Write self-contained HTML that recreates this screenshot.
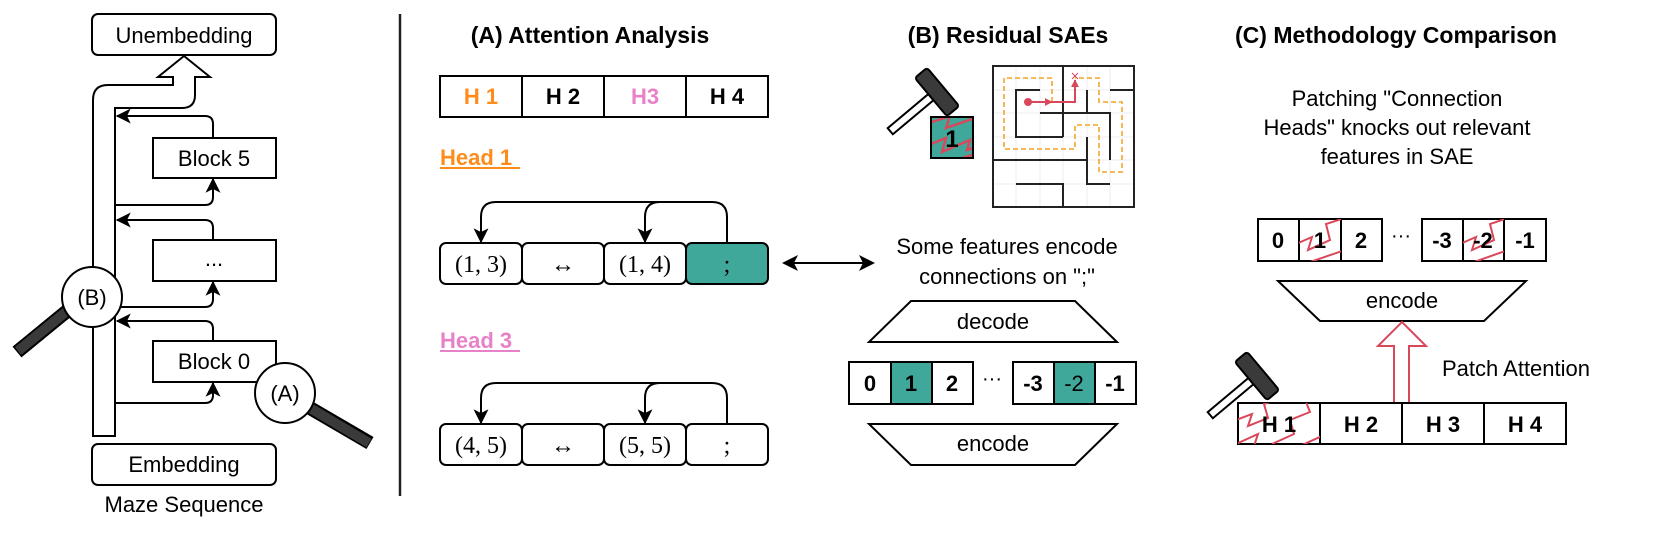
<!DOCTYPE html>
<html><head><meta charset="utf-8"><style>
html,body{margin:0;padding:0;background:#fff;}
svg{display:block;}
text{font-family:"Liberation Sans",Arial,sans-serif;}
.s{font-family:"Liberation Serif","DejaVu Serif",serif;}
</style></head><body>
<svg width="1661" height="536" viewBox="0 0 1661 536" xmlns="http://www.w3.org/2000/svg">
<defs>
<marker id="ah" viewBox="0 0 12 12" refX="11" refY="6" markerWidth="15" markerHeight="15" markerUnits="userSpaceOnUse" orient="auto">
<path d="M0,0 L12,6 L0,12 L3,6 Z" fill="#000"/></marker>
<marker id="ahs" viewBox="0 0 12 12" refX="6" refY="6" markerWidth="16" markerHeight="16" markerUnits="userSpaceOnUse" orient="auto-start-reverse">
<path d="M0,0 L12,6 L0,12 L3,6 Z" fill="#000"/></marker>
<marker id="ahr" viewBox="0 0 10 10" refX="9" refY="5" markerWidth="8" markerHeight="8" markerUnits="userSpaceOnUse" orient="auto">
<path d="M0,0 L10,5 L0,10 Z" fill="#d9485a"/></marker>
<clipPath id="cq"><rect x="931" y="117" width="42" height="41"/></clipPath>
<clipPath id="c1"><rect x="1299" y="219" width="42" height="42"/></clipPath>
<clipPath id="c2"><rect x="1463" y="219" width="41" height="42"/></clipPath>
<clipPath id="c3"><rect x="1238" y="403" width="82" height="41"/></clipPath>
<g id="hammer">
<rect x="-4" y="8" width="8" height="53" fill="#fff" stroke="#000" stroke-width="2"/>
<rect x="-25" y="-8" width="50" height="16" rx="3" fill="#3a3a3a" stroke="#000" stroke-width="2"/>
</g>
</defs>

<!-- LEFT PANEL -->
<rect x="92" y="14" width="184" height="41" rx="6" fill="#fff" stroke="#000" stroke-width="2"/>
<text x="184" y="43" font-size="22" text-anchor="middle">Unembedding</text>
<path d="M93,436 L93,100 Q93,85 108,85 L173,85 L173,77 L158,77 L184,56 L210,77 L195,77 L195,95 Q195,108 182,108 L115,108 L115,436 Z" fill="#fff" stroke="#000" stroke-width="2"/>
<rect x="153" y="138" width="123" height="40" fill="#fff" stroke="#000" stroke-width="2"/>
<text x="214" y="166" font-size="22" text-anchor="middle">Block 5</text>
<rect x="153" y="240" width="123" height="41" fill="#fff" stroke="#000" stroke-width="2"/>
<text x="214" y="266" font-size="22" text-anchor="middle">...</text>
<rect x="153" y="341" width="123" height="41" fill="#fff" stroke="#000" stroke-width="2"/>
<text x="214" y="369" font-size="22" text-anchor="middle">Block 0</text>
<g fill="none" stroke="#000" stroke-width="2">
<path d="M213,138 L213,124 Q213,116 205,116 L117,116" marker-end="url(#ah)"/>
<path d="M115,205 L205,205 Q213,205 213,197 L213,179" marker-end="url(#ah)"/>
<path d="M213,240 L213,228 Q213,220 205,220 L117,220" marker-end="url(#ah)"/>
<path d="M115,307 L205,307 Q213,307 213,299 L213,282" marker-end="url(#ah)"/>
<path d="M213,341 L213,329 Q213,321 205,321 L117,321" marker-end="url(#ah)"/>
<path d="M115,403 L205,403 Q213,403 213,395 L213,383" marker-end="url(#ah)"/>
</g>
<line x1="67" y1="311" x2="17" y2="352" stroke="#000" stroke-width="14"/>
<line x1="67" y1="311" x2="18" y2="351" stroke="#3a3a3a" stroke-width="10"/>
<circle cx="92" cy="297" r="30" fill="#fff" stroke="#000" stroke-width="2"/>
<text x="92" y="305" font-size="22" text-anchor="middle">(B)</text>
<line x1="310" y1="408" x2="370" y2="443" stroke="#000" stroke-width="14"/>
<line x1="310" y1="408" x2="369" y2="443" stroke="#3a3a3a" stroke-width="10"/>
<circle cx="285" cy="393" r="30" fill="#fff" stroke="#000" stroke-width="2"/>
<text x="285" y="401" font-size="22" text-anchor="middle">(A)</text>
<rect x="92" y="444" width="184" height="41" rx="6" fill="#fff" stroke="#000" stroke-width="2"/>
<text x="184" y="472" font-size="22" text-anchor="middle">Embedding</text>
<text x="184" y="512" font-size="22" text-anchor="middle">Maze Sequence</text>

<line x1="400" y1="14" x2="400" y2="496" stroke="#222" stroke-width="2.5"/>

<!-- (A) -->
<text x="590" y="43" font-size="23" font-weight="bold" text-anchor="middle">(A) Attention Analysis</text>
<g stroke="#000" stroke-width="2" fill="#fff">
<rect x="440" y="76" width="82" height="41"/><rect x="522" y="76" width="82" height="41"/>
<rect x="604" y="76" width="82" height="41"/><rect x="686" y="76" width="82" height="41"/>
</g>
<g font-size="22" font-weight="bold" text-anchor="middle">
<text x="481" y="104" fill="#ff8c1a">H 1</text><text x="563" y="104">H 2</text>
<text x="645" y="104" fill="#e882c8">H3</text><text x="727" y="104">H 4</text>
</g>
<text x="440" y="165" font-size="22" font-weight="bold" fill="#ff8c1a">Head 1</text>
<line x1="440" y1="168" x2="520" y2="168" stroke="#ff8c1a" stroke-width="2"/>
<text x="440" y="348" font-size="22" font-weight="bold" fill="#e882c8">Head 3</text>
<line x1="440" y1="351" x2="520" y2="351" stroke="#e882c8" stroke-width="2"/>

<g stroke="#000" stroke-width="2" fill="#fff">
<rect x="440" y="243" width="82" height="41" rx="6"/><rect x="522" y="243" width="82" height="41" rx="6"/>
<rect x="604" y="243" width="82" height="41" rx="6"/><rect x="686" y="243" width="82" height="41" rx="6" fill="#3fa89a"/>
<rect x="440" y="424" width="82" height="41" rx="6"/><rect x="522" y="424" width="82" height="41" rx="6"/>
<rect x="604" y="424" width="82" height="41" rx="6"/><rect x="686" y="424" width="82" height="41" rx="6"/>
</g>
<g class="s" font-size="24" text-anchor="middle">
<text class="s" x="481" y="272">(1, 3)</text><text class="s" x="563" y="272">↔</text>
<text class="s" x="645" y="272">(1, 4)</text><text class="s" x="727" y="272">;</text>
<text class="s" x="481" y="453">(4, 5)</text><text class="s" x="563" y="453">↔</text>
<text class="s" x="645" y="453">(5, 5)</text><text class="s" x="727" y="453">;</text>
</g>
<g fill="none" stroke="#000" stroke-width="2">
<path d="M727,243 L727,217 Q727,202 712,202 L496,202 Q481,202 481,217 L481,242" marker-end="url(#ah)"/>
<path d="M660,202 Q645,202 645,217 L645,242" marker-end="url(#ah)"/>
<path d="M727,424 L727,398 Q727,383 712,383 L496,383 Q481,383 481,398 L481,423" marker-end="url(#ah)"/>
<path d="M660,383 Q645,383 645,398 L645,423" marker-end="url(#ah)"/>
<line x1="790" y1="263" x2="867" y2="263" marker-start="url(#ahs)" marker-end="url(#ahs)"/>
</g>

<!-- (B) -->
<text x="1008" y="43" font-size="23" font-weight="bold" text-anchor="middle">(B) Residual SAEs</text>
<use href="#hammer" transform="translate(937,92) rotate(50)"/>
<rect x="931" y="117" width="42" height="41" fill="#3fa89a"/>
<g clip-path="url(#cq)" fill="none" stroke="#d9485a" stroke-width="2.5">
<polyline points="926,124 950,116 946,128 975,118"/>
<polyline points="926,146 946,138 942,152 970,140 967,150 980,146"/>
<polyline points="950,162 975,154"/>
</g>
<rect x="931" y="117" width="42" height="41" fill="none" stroke="#000" stroke-width="2"/>
<text x="952" y="147" font-size="24" font-weight="bold" text-anchor="middle">1</text>

<!-- maze -->
<g stroke="#eee" stroke-width="1">
<line x1="1016" y1="66" x2="1016" y2="207"/><line x1="1040" y1="66" x2="1040" y2="207"/>
<line x1="1063" y1="66" x2="1063" y2="207"/><line x1="1087" y1="66" x2="1087" y2="207"/>
<line x1="1110" y1="66" x2="1110" y2="207"/>
<line x1="993" y1="90" x2="1134" y2="90"/><line x1="993" y1="113" x2="1134" y2="113"/>
<line x1="993" y1="137" x2="1134" y2="137"/><line x1="993" y1="160" x2="1134" y2="160"/>
<line x1="993" y1="184" x2="1134" y2="184"/>
</g>
<g fill="none" stroke="#f5b042" stroke-width="1.8" stroke-dasharray="5,3">
<polyline points="1052,102 1052,78 1004,78 1004,149 1075,149 1075,125 1099,125 1099,172 1122,172 1122,102 1099,102 1099,78 1075,78"/>
</g>
<g fill="none" stroke="#222" stroke-width="2">
<rect x="993" y="66" width="141" height="141"/>
<line x1="1063" y1="66" x2="1063" y2="137"/>
<polyline points="1040,90 1016,90 1016,137 1063,137"/>
<polyline points="1040,113 1110,113 1110,160"/>
<line x1="1087" y1="90" x2="1087" y2="113"/>
<line x1="1110" y1="90" x2="1134" y2="90"/>
<polyline points="993,160 1087,160"/>
<polyline points="1087,137 1087,184 1110,184"/>
<polyline points="1016,184 1063,184 1063,207"/>
</g>
<g fill="none" stroke="#d9485a" stroke-width="2">
<polyline points="1029,102 1075,102 1075,80" marker-end="url(#ahr)"/>
<line x1="1045" y1="102" x2="1052" y2="102" marker-end="url(#ahr)"/>
<line x1="1072" y1="73" x2="1078" y2="79" stroke-width="1"/><line x1="1078" y1="73" x2="1072" y2="79" stroke-width="1"/>
</g>
<circle cx="1028" cy="102" r="4" fill="#d9485a"/>

<text x="1007" y="254" font-size="22" text-anchor="middle">Some features encode</text>
<text x="1007" y="284" font-size="22" text-anchor="middle">connections on ";"</text>

<polygon points="911,301 1075,301 1117,342 869,342" fill="#fff" stroke="#000" stroke-width="2"/>
<text x="993" y="329" font-size="22" text-anchor="middle">decode</text>
<g stroke="#000" stroke-width="2" fill="#fff">
<rect x="849" y="362" width="42" height="42"/><rect x="891" y="362" width="41" height="42" fill="#3fa89a"/>
<rect x="932" y="362" width="41" height="42"/>
<rect x="1013" y="362" width="41" height="42"/><rect x="1054" y="362" width="41" height="42" fill="#3fa89a"/>
<rect x="1095" y="362" width="41" height="42"/>
</g>
<g font-size="22" font-weight="bold" text-anchor="middle">
<text x="870" y="391">0</text><text x="911" y="391">1</text><text x="952" y="391">2</text>
<text x="1033" y="391">-3</text><text x="1074" y="391" font-weight="normal">-2</text><text x="1115" y="391">-1</text>
</g>
<text x="992" y="385" font-size="20" text-anchor="middle">···</text>
<polygon points="869,424 1117,424 1075,465 911,465" fill="#fff" stroke="#000" stroke-width="2"/>
<text x="993" y="451" font-size="22" text-anchor="middle">encode</text>

<!-- (C) -->
<text x="1396" y="43" font-size="23" font-weight="bold" text-anchor="middle">(C) Methodology Comparison</text>
<g font-size="22" text-anchor="middle">
<text x="1397" y="106">Patching "Connection</text>
<text x="1397" y="135">Heads" knocks out relevant</text>
<text x="1397" y="164">features in SAE</text>
</g>
<g stroke="#000" stroke-width="2" fill="#fff">
<rect x="1258" y="219" width="41" height="42"/><rect x="1299" y="219" width="42" height="42"/>
<rect x="1341" y="219" width="41" height="42"/>
<rect x="1422" y="219" width="41" height="42"/><rect x="1463" y="219" width="41" height="42"/>
<rect x="1504" y="219" width="42" height="42"/>
</g>
<g fill="none" stroke="#d9485a" stroke-width="2">
<g clip-path="url(#c1)"><polyline points="1296,244 1312,237 1308,250 1330,240 1326,224 1345,218"/><polyline points="1310,262 1345,250"/></g>
<g clip-path="url(#c2)"><polyline points="1460,244 1476,237 1472,250 1494,240 1490,224 1508,218"/><polyline points="1474,262 1508,250"/></g>
</g>
<g font-size="22" font-weight="bold" text-anchor="middle">
<text x="1278" y="248">0</text><text x="1320" y="248">1</text><text x="1361" y="248">2</text>
<text x="1442" y="248">-3</text><text x="1483" y="248">-2</text><text x="1525" y="248">-1</text>
</g>
<text x="1401" y="242" font-size="20" text-anchor="middle">···</text>
<polygon points="1278,281 1526,281 1484,321 1320,321" fill="#fff" stroke="#000" stroke-width="2"/>
<text x="1402" y="308" font-size="22" text-anchor="middle">encode</text>
<polygon points="1394,403 1394,346 1378,346 1402,322 1426,346 1409,346 1409,403" fill="#fff" stroke="#d9485a" stroke-width="2"/>
<text x="1442" y="376" font-size="22">Patch Attention</text>
<use href="#hammer" transform="translate(1257,376) rotate(50)"/>
<g stroke="#000" stroke-width="2" fill="#fff">
<rect x="1238" y="403" width="82" height="41"/><rect x="1320" y="403" width="82" height="41"/>
<rect x="1402" y="403" width="82" height="41"/><rect x="1484" y="403" width="82" height="41"/>
</g>
<g clip-path="url(#c3)" fill="none" stroke="#d9485a" stroke-width="2">
<polyline points="1236,420 1252,414 1248,426 1268,418 1264,404 1282,398"/>
<polyline points="1236,444 1258,434 1254,446"/>
<polyline points="1272,444 1294,434 1290,420 1310,412 1306,402 1322,396"/>
<polyline points="1300,446 1322,436"/>
</g>
<g font-size="22" font-weight="bold" text-anchor="middle">
<text x="1279" y="432">H 1</text><text x="1361" y="432">H 2</text>
<text x="1443" y="432">H 3</text><text x="1525" y="432">H 4</text>
</g>
</svg>
</body></html>
